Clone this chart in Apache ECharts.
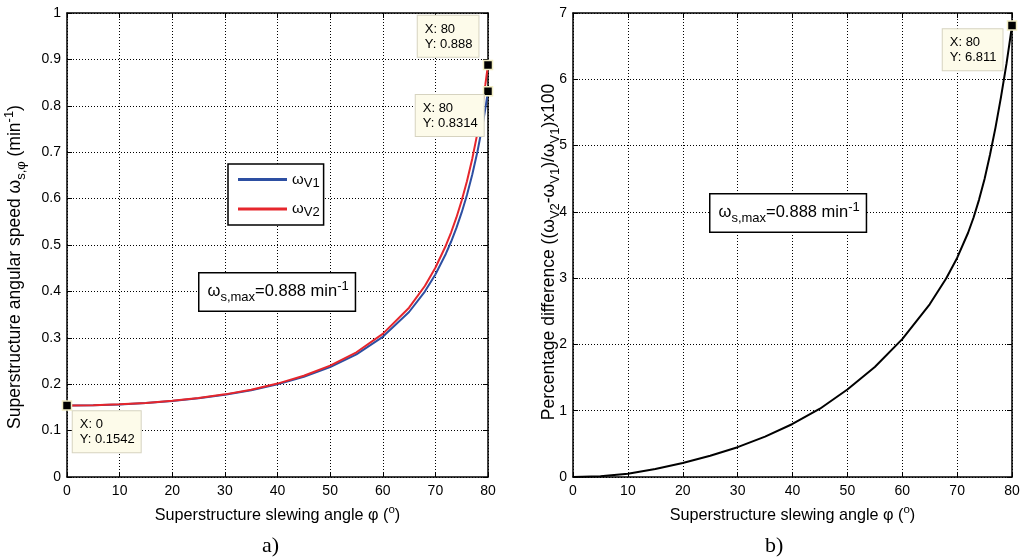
<!DOCTYPE html>
<html><head><meta charset="utf-8">
<script src="https://cdn.jsdelivr.net/npm/echarts@6/dist/echarts.min.js"></script>
<style>html,body{margin:0;padding:0;background:#fff}#c{width:1029px;height:559px}</style>
</head><body><div id="c"></div>
<script>
// ---- data ----
const angles  = [0, 5, 10, 15, 20, 25, 30, 35, 40, 45, 50, 55, 60, 65, 68, 70, 72, 73, 74, 75, 76, 77, 78, 79, 79.5, 80];
const omegaV2 = [0.1542, 0.1548, 0.1566, 0.1596, 0.1641, 0.1701, 0.1781, 0.1882, 0.2013, 0.2181, 0.2399, 0.2688, 0.3084, 0.3649, 0.4116, 0.4509, 0.4990, 0.5274, 0.5594, 0.5958, 0.6374, 0.6855, 0.7417, 0.8081, 0.8461, 0.8880];
const omegaV1 = [0.1542, 0.1548, 0.1565, 0.1594, 0.1638, 0.1696, 0.1773, 0.1871, 0.1997, 0.2159, 0.2368, 0.2644, 0.3021, 0.3556, 0.3996, 0.4365, 0.4813, 0.5075, 0.5369, 0.5702, 0.6078, 0.6512, 0.7015, 0.7607, 0.7943, 0.8314];
const diffPct = [0, 0.01, 0.05, 0.12, 0.21, 0.32, 0.45, 0.61, 0.80, 1.03, 1.32, 1.66, 2.08, 2.605, 2.995, 3.305, 3.685, 3.915, 4.185, 4.495, 4.865, 5.275, 5.735, 6.235, 6.52, 6.811];
const xTicks = [0, 10, 20, 30, 40, 50, 60, 70, 80];
const yTicksA = [0, 0.1, 0.2, 0.3, 0.4, 0.5, 0.6, 0.7, 0.8, 0.9, 1];
const yTicksB = [0, 1, 2, 3, 4, 5, 6, 7];
const seriesNames = ['V1', 'V2'];

const FONT = '"Liberation Sans", Arial, sans-serif';
const chart = echarts.init(document.getElementById('c'));

function pair(xs, ys) { return xs.map((x, i) => [x, ys[i]]); }
const last = angles.length - 1;

const richBase = (fs, sfs, off) => ({
  sub: { fontSize: sfs, fontFamily: FONT, color: '#000', padding: [off, 0, 0, 0] },
  sup: { fontSize: sfs, fontFamily: FONT, color: '#000', padding: [0, 0, off, 0] },
  w: { fontSize: fs, fontFamily: FONT, color: '#000' }
});

const gridLine = { show: true, lineStyle: { color: '#000', type: [1, 2], width: 1 } };
const frameLine = { show: true, onZero: false, lineStyle: { color: '#000', width: 1.5 } };
const tick = { show: true, inside: true, length: 5, lineStyle: { color: '#000', width: 1 } };
const tickLabel = { color: '#000', fontSize: 14, fontFamily: FONT };

function xAxes(gi, name) {
  return [
    { gridIndex: gi, type: 'value', min: xTicks[0], max: xTicks[xTicks.length - 1], interval: 10,
      axisLine: frameLine, axisTick: tick, splitLine: gridLine,
      axisLabel: Object.assign({ margin: 7 }, tickLabel),
      name: name, nameLocation: 'middle', nameGap: 27,
      nameTextStyle: { color: '#000', fontSize: 16.2, fontFamily: FONT, rich: richBase(16.2, 11.5, 11) } },
    { gridIndex: gi, type: 'value', position: 'top', min: xTicks[0], max: xTicks[xTicks.length - 1], interval: 10,
      axisLine: frameLine, axisTick: tick, splitLine: { show: false }, axisLabel: { show: false } }
  ];
}
function yAxes(gi, ticks, step) {
  return [
    { gridIndex: gi, type: 'value', min: ticks[0], max: ticks[ticks.length - 1], interval: step,
      axisLine: frameLine, axisTick: tick, splitLine: gridLine,
      axisLabel: Object.assign({ margin: 6, formatter: v => String(+v.toFixed(1)) }, tickLabel) },
    { gridIndex: gi, type: 'value', position: 'right', min: ticks[0], max: ticks[ticks.length - 1], interval: step,
      axisLine: frameLine, axisTick: tick, splitLine: { show: false }, axisLabel: { show: false } }
  ];
}

const tipLabel = (pos) => ({
  show: true, position: pos, color: '#000', fontSize: 13, fontFamily: FONT, lineHeight: 15,
  backgroundColor: '#fdfbea', borderColor: '#d6d3c0', borderWidth: 1, padding: [6, 6, 5, 7],
  formatter: p => 'X: ' + p.data.coord[0] + '\nY: ' + p.data.coord[1]
});
const tipSymbol = { symbol: 'rect', symbolSize: 9, itemStyle: { color: '#000', borderColor: '#f1edc4', borderWidth: 1.5 } };

const yNameStyle = (text) => ({ text: text, fill: '#000', font: '17.5px ' + FONT, align: 'center', verticalAlign: 'middle',
  rich: richBase(17.5, 13, 12) });
const boxStyle = { text: 'ω{sub|s,max}=0.888 min{sup|-1}', fill: '#000', font: '16.5px ' + FONT,
  rich: richBase(16.5, 13, 11), backgroundColor: '#fff', borderColor: '#000', borderWidth: 1.5, padding: [6, 6, 7, 8] };

const option = {
  animation: false,
  backgroundColor: '#fff',
  grid: [
    { left: 67, top: 13, width: 421, height: 464 },
    { left: 573, top: 13, width: 439, height: 464 }
  ],
  xAxis: [].concat(
    xAxes(0, 'Superstructure slewing angle φ ({sup|o})'),
    xAxes(1, 'Superstructure slewing angle φ ({sup|o})')
  ),
  yAxis: [].concat(yAxes(0, yTicksA, 0.1), yAxes(1, yTicksB, 1)),
  legend: {
    data: seriesNames, left: 228, top: 164, orient: 'vertical',
    icon: 'rect', itemWidth: 49, itemHeight: 3, itemGap: 12,
    padding: [8, 4, 6, 10], borderColor: '#000', borderWidth: 1.5, backgroundColor: '#fff',
    formatter: n => '{w|ω}{sub|' + n + '}',
    textStyle: { rich: richBase(15, 13, 7) }
  },
  series: [
    { name: seriesNames[0], type: 'line', xAxisIndex: 0, yAxisIndex: 0, data: pair(angles, omegaV1),
      showSymbol: false, lineStyle: { color: '#2d4fa2', width: 2 }, itemStyle: { color: '#2d4fa2' },
      markPoint: Object.assign({ data: [
        { coord: [angles[0], omegaV1[0]], label: tipLabel([11, 11]) },
        { coord: [angles[last], omegaV1[last]], label: tipLabel([-67, 9]) }
      ] }, tipSymbol) },
    { name: seriesNames[1], type: 'line', xAxisIndex: 0, yAxisIndex: 0, data: pair(angles, omegaV2),
      showSymbol: false, lineStyle: { color: '#e6262c', width: 2 }, itemStyle: { color: '#e6262c' },
      markPoint: Object.assign({ data: [
        { coord: [angles[last], omegaV2[last]], label: tipLabel([-65, -44]) }
      ] }, tipSymbol) },
    { name: 'diff', type: 'line', xAxisIndex: 2, yAxisIndex: 2, data: pair(angles, diffPct),
      showSymbol: false, lineStyle: { color: '#000', width: 2 },
      markPoint: Object.assign({ data: [
        { coord: [angles[last], diffPct[last]], label: tipLabel([-64, 9]) }
      ] }, tipSymbol) }
  ],
  graphic: [
    { type: 'text', x: 15, y: 267, rotation: Math.PI / 2, z: 100,
      style: yNameStyle('Superstructure angular speed ω{sub|s,φ} (min{sup|-1})') },
    { type: 'text', x: 549, y: 252, rotation: Math.PI / 2, z: 100,
      style: yNameStyle('Percentage difference ((ω{sub|V2}-ω{sub|V1})/ω{sub|V1})x100') },
    { type: 'text', left: 198, top: 272, z: 100, style: boxStyle },
    { type: 'text', left: 709, top: 193, z: 100, style: boxStyle },
    { type: 'text', left: 262, top: 535, style: { text: 'a)', fill: '#000', font: '22px "Liberation Serif", "Times New Roman", serif' } },
    { type: 'text', left: 765, top: 535, style: { text: 'b)', fill: '#000', font: '22px "Liberation Serif", "Times New Roman", serif' } }
  ]
};
chart.setOption(option);
</script></body></html>
